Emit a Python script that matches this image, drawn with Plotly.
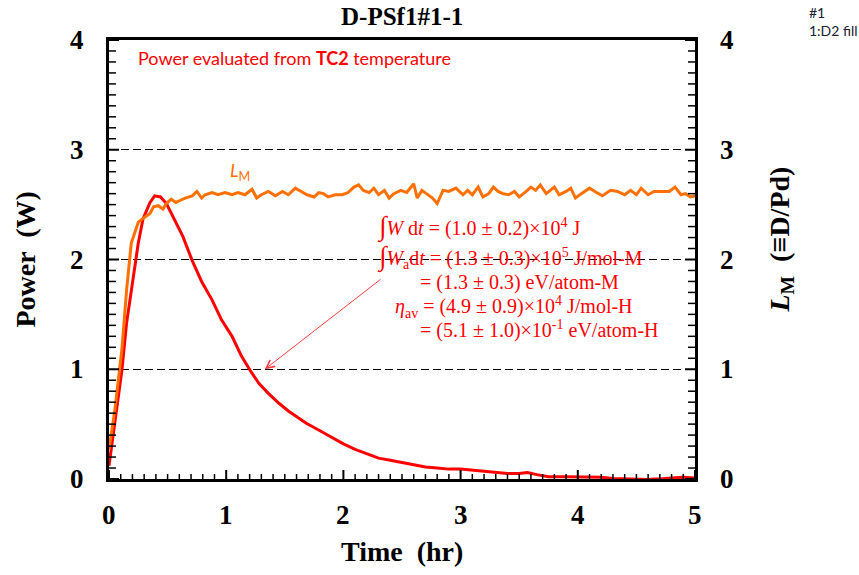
import plotly.graph_objects as go

# ---- data ----
t_power = [0, 0.05, 0.11, 0.15, 0.21, 0.25, 0.29, 0.35, 0.39, 0.44, 0.49, 0.56, 0.63,
           0.71, 0.79, 0.88, 0.96, 1.05, 1.13, 1.21, 1.28, 1.36, 1.45, 1.53, 1.68, 1.8,
           1.9, 2.0, 2.1, 2.2, 2.3, 2.4, 2.5, 2.6, 2.7, 2.8, 2.9, 3.0, 3.1, 3.2, 3.3,
           3.4, 3.5, 3.57, 3.65, 3.75, 3.9, 4.0, 4.1, 4.2, 4.3, 4.4, 4.5, 4.6, 4.65,
           4.7, 4.8, 4.9, 5.0]
power = [0.12, 0.51, 0.99, 1.42, 1.84, 2.15, 2.37, 2.52, 2.58, 2.57, 2.51, 2.36, 2.21,
         1.99, 1.80, 1.63, 1.45, 1.30, 1.12, 0.98, 0.87, 0.78, 0.69, 0.62, 0.51, 0.44,
         0.38, 0.32, 0.27, 0.23, 0.19, 0.17, 0.15, 0.13, 0.11, 0.10, 0.09, 0.09, 0.08,
         0.07, 0.06, 0.05, 0.05, 0.06, 0.04, 0.02, 0.02, 0.02, 0.015, 0.015, 0.005, 0.0,
         0.0, -0.005, 0.0, 0.0, 0.01, 0.015, 0.01]

t_lm = [0, 0.05, 0.11, 0.15, 0.19, 0.25, 0.31, 0.35, 0.38, 0.42, 0.46, 0.49, 0.53, 0.57,
        0.61, 0.65, 0.71, 0.75, 0.79, 0.82, 0.88, 0.93, 0.99, 1.05, 1.10, 1.16, 1.22,
        1.26, 1.30, 1.36, 1.42, 1.48, 1.53, 1.59, 1.64, 1.69, 1.75, 1.79, 1.83, 1.87,
        1.93, 1.99, 2.04, 2.09, 2.13, 2.17, 2.22, 2.26, 2.30, 2.35, 2.39, 2.43, 2.49,
        2.54, 2.60, 2.63, 2.67, 2.72, 2.76, 2.80, 2.85, 2.90, 2.96, 3.02, 3.06, 3.10,
        3.15, 3.19, 3.24, 3.28, 3.32, 3.36, 3.41, 3.46, 3.50, 3.56, 3.60, 3.64, 3.68,
        3.73, 3.77, 3.80, 3.84, 3.90, 3.94, 3.98, 4.03, 4.10, 4.16, 4.21, 4.28, 4.34,
        4.40, 4.45, 4.50, 4.54, 4.60, 4.65, 4.72, 4.78, 4.83, 4.88, 4.92, 4.96, 5.00]
lm = [0.27, 0.63, 1.18, 1.72, 2.15, 2.34, 2.39, 2.42, 2.48, 2.49, 2.46, 2.51, 2.55, 2.52,
      2.54, 2.56, 2.58, 2.62, 2.56, 2.59, 2.61, 2.59, 2.61, 2.59, 2.61, 2.59, 2.64,
      2.56, 2.59, 2.62, 2.58, 2.62, 2.59, 2.65, 2.62, 2.59, 2.57, 2.61, 2.60, 2.57,
      2.59, 2.59, 2.61, 2.66, 2.68, 2.63, 2.61, 2.65, 2.59, 2.63, 2.56, 2.60, 2.63,
      2.61, 2.69, 2.56, 2.63, 2.59, 2.56, 2.51, 2.63, 2.62, 2.65, 2.59, 2.63, 2.59,
      2.66, 2.57, 2.60, 2.66, 2.62, 2.60, 2.59, 2.62, 2.57, 2.62, 2.66, 2.63, 2.68,
      2.60, 2.63, 2.66, 2.59, 2.62, 2.65, 2.56, 2.60, 2.65, 2.61, 2.58, 2.63, 2.62,
      2.59, 2.63, 2.59, 2.65, 2.59, 2.62, 2.62, 2.62, 2.66, 2.59, 2.60, 2.57, 2.58]

x_tickvals = [0, 1, 2, 3, 4, 5]
y_tickvals = [0, 1, 2, 3, 4]
x_range = [0, 5]
y_range = [0, 4]
minor_step = 0.1

title_text = "D-PSf1#1-1"
NB = "\u00a0"
note_lines = [
    '<span style="font-size:27px">∫</span><i>W</i>' + NB + 'd<i>t</i> = (1.0 ± 0.2)×10<sup>4</sup>' + NB + 'J',
    '<span style="font-size:27px">∫</span><i>W</i><sub>a</sub>d<i>t</i> = (1.3 ± 0.3)×10<sup>5</sup> J/mol-M',
    '= (1.3 ± 0.3) eV/atom-M',
    '<i>η</i><sub>av</sub> = (4.9 ± 0.9)×10<sup>4</sup> J/mol-H',
    '= (5.1 ± 1.0)×10<sup>-1</sup> eV/atom-H',
]
note_pos = [(2.27, 2.30), (2.27, 2.02), (2.64, 1.79), (2.42, 1.57), (2.64, 1.36)]

RED = "#FF0000"
ORANGE = "#FF7000"
SERIF = "Liberation Serif"

fig = go.Figure()
fig.add_trace(go.Scatter(x=t_power, y=power, mode="lines",
                         line=dict(color=RED, width=3), showlegend=False))
fig.add_trace(go.Scatter(x=t_lm, y=lm, mode="lines", yaxis="y2",
                         line=dict(color=ORANGE, width=3), showlegend=False))

fig.update_layout(
    width=859, height=575,
    margin=dict(l=109, r=164, t=40, b=96),
    paper_bgcolor="white", plot_bgcolor="white",
    showlegend=False,
    xaxis=dict(range=x_range, tick0=0, dtick=1, ticks="", showline=True, linewidth=3,
               linecolor="black", mirror=True, showgrid=False, zeroline=False,
               showticklabels=False),
    yaxis=dict(range=y_range, tick0=0, dtick=1, ticks="", showline=True, linewidth=3,
               linecolor="black", showgrid=True, gridcolor="black", gridwidth=1,
               griddash="8px,4px", zeroline=False, showticklabels=False),
    yaxis2=dict(range=y_range, tick0=0, dtick=1, overlaying="y", side="right", ticks="",
                showline=True, linewidth=3, linecolor="black", showgrid=False,
                zeroline=False, showticklabels=False),
)

# inward tick marks (major at the tick values, minor every 0.1), sized in pixels
shapes = []
n_x = int(round((x_range[1] - x_range[0]) / minor_step))
for i in range(n_x + 1):
    v = round(x_range[0] + i * minor_step, 6)
    major = abs(v - round(v)) < 1e-9
    shapes.append(dict(type="line", xref="x", yref="paper", ysizemode="pixel", yanchor=0,
                       x0=v, x1=v, y0=0, y1=9 if major else 5, layer="above",
                       line=dict(color="black", width=2 if major else 1.5)))
n_y = int(round((y_range[1] - y_range[0]) / minor_step))
for i in range(n_y + 1):
    v = round(y_range[0] + i * minor_step, 6)
    major = abs(v - round(v)) < 1e-9
    ln = 10 if major else 7
    w = 2 if major else 1.5
    shapes.append(dict(type="line", xref="paper", yref="y", xsizemode="pixel", xanchor=0,
                       x0=0, x1=ln, y0=v, y1=v, layer="above",
                       line=dict(color="black", width=w)))
    shapes.append(dict(type="line", xref="paper", yref="y2", xsizemode="pixel", xanchor=1,
                       x0=0, x1=-ln, y0=v, y1=v, layer="above",
                       line=dict(color="black", width=w)))

tick_font = dict(family=SERIF, size=27, color="black")
ann = []
for v in x_tickvals:
    ann.append(dict(text="<b>%d</b>" % v, x=v, y=0, xref="x", yref="paper", yshift=-36,
                    xanchor="center", yanchor="middle", showarrow=False, font=tick_font))
for v in y_tickvals:
    ann.append(dict(text="<b>%d</b>" % v, x=0, y=v, xref="paper", yref="y", xshift=-32,
                    xanchor="center", yanchor="middle", showarrow=False, font=tick_font))
    ann.append(dict(text="<b>%d</b>" % v, x=1, y=v, xref="paper", yref="y2", xshift=32,
                    xanchor="center", yanchor="middle", showarrow=False, font=tick_font))

ann.append(dict(text="<b>" + title_text + "</b>", xref="paper", yref="paper",
                x=0.5, y=1, yshift=24, xanchor="center", yanchor="middle",
                showarrow=False, font=dict(family=SERIF, size=25, color="black")))
ann.append(dict(text="<b>Time  (hr)</b>", xref="paper", yref="paper", x=0.5, y=0,
                yshift=-72, xanchor="center", yanchor="middle", showarrow=False,
                font=dict(family=SERIF, size=28, color="black")))
ann.append(dict(text="<b>Power  (W)</b>", xref="paper", yref="paper", x=0, y=0.5,
                xshift=-84, xanchor="center", yanchor="middle", textangle=-90,
                showarrow=False, font=dict(family=SERIF, size=28, color="black")))
ann.append(dict(text="<b><i>L</i><sub>M</sub>  (≡D/Pd)</b>", xref="paper", yref="paper",
                x=1, y=0.5, xshift=86, yshift=20, xanchor="center", yanchor="middle",
                textangle=-90, showarrow=False,
                font=dict(family=SERIF, size=28, color="black")))
ann.append(dict(text="#1<br>1:D2 fill", xref="paper", yref="paper", x=1, y=1,
                xshift=112, yshift=38, xanchor="left", yanchor="top", align="left",
                showarrow=False, font=dict(family="Lato", size=14, color="#202030")))
ann.append(dict(text="Power evaluated from <b>TC2</b> temperature", x=0.23, y=3.84,
                xref="x", yref="y", xanchor="left", yanchor="middle", showarrow=False,
                font=dict(family="Lato", size=18, color=RED)))
ann.append(dict(text="<i>L</i><sub>M</sub>", x=1.12, y=2.8, xref="x", yref="y",
                xanchor="center", yanchor="middle", showarrow=False,
                font=dict(family="Lato", size=18, color=ORANGE)))
for txt, (xx, yy) in zip(note_lines, note_pos):
    ann.append(dict(text=txt, x=xx, y=yy, xref="x", yref="y", xanchor="left",
                    yanchor="middle", showarrow=False,
                    font=dict(family=SERIF, size=20, color=RED)))
ann.append(dict(x=1.33, y=1.0, ax=2.33, ay=1.83, xref="x", yref="y", axref="x",
                ayref="y", text="", showarrow=True, arrowhead=5, arrowsize=1.6,
                arrowwidth=1, arrowcolor="#FF4040"))

fig.update_layout(annotations=ann, shapes=shapes)
fig.write_html("out.html")
